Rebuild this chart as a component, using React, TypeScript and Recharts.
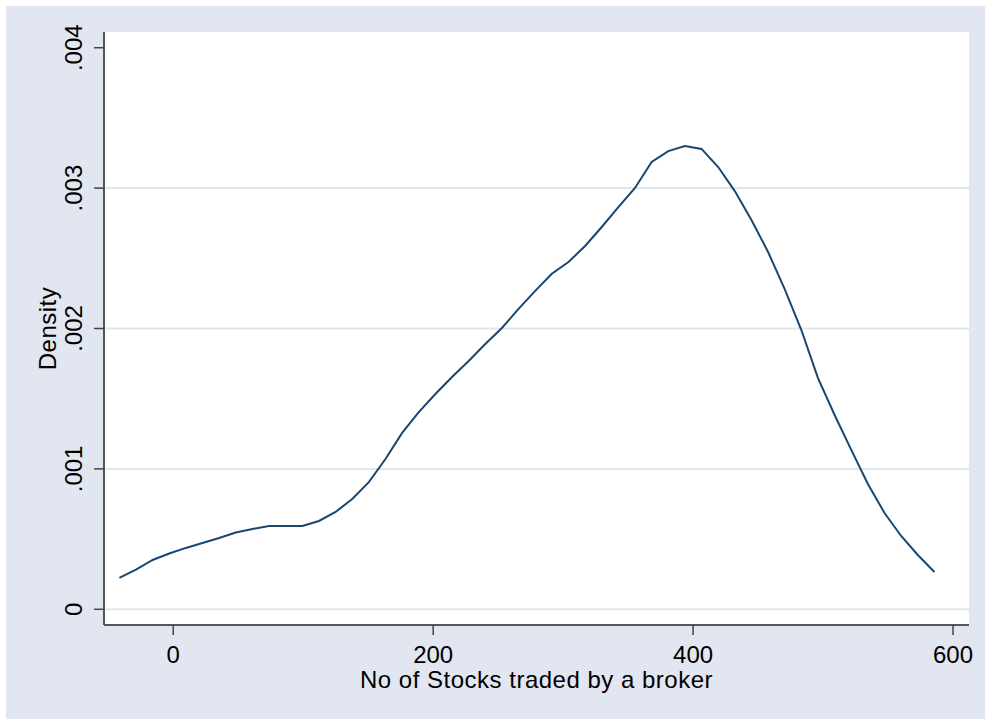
import React from 'react';
import { LineChart, Line, XAxis, YAxis, CartesianGrid, ReferenceLine } from 'recharts';

const stocksTraded = [
  -41.5, -28.7, -15.9, -3.1, 9.7, 22.5, 35.3, 48.1, 60.9, 73.7,
  86.5, 99.3, 112.1, 124.9, 137.7, 150.5, 163.3, 176.1, 188.9, 201.7,
  214.5, 227.3, 240.1, 252.9, 265.7, 278.5, 291.3, 304.1, 316.9, 329.7,
  342.5, 355.3, 368.1, 380.9, 393.7, 406.5, 419.3, 432.1, 444.9, 457.7,
  470.5, 483.3, 496.1, 508.9, 521.7, 534.5, 547.3, 560.1, 572.9, 585.7,
];

const density = [
  0.000223, 0.000283, 0.000351, 0.000397, 0.000437, 0.000472, 0.000508, 0.000547, 0.000572, 0.000593,
  0.000593, 0.000593, 0.000629, 0.000693, 0.000786, 0.000906, 0.00107, 0.001256, 0.001405, 0.001533,
  0.001655, 0.001768, 0.00189, 0.002004, 0.00214, 0.002268, 0.00239, 0.002474, 0.002588, 0.002723,
  0.002865, 0.003001, 0.003187, 0.003264, 0.0033, 0.003279, 0.00315, 0.002979, 0.002773, 0.002545,
  0.002281, 0.001989, 0.001647, 0.001384, 0.001135, 0.000893, 0.000686, 0.000522, 0.000387, 0.000266,
];

const xTicks = [0, 200, 400, 600];
const yTicks = [0, 0.001, 0.002, 0.003, 0.004];
const yTickLabels = ['0', '.001', '.002', '.003', '.004'];
const gridValues = [0, 0.001, 0.002, 0.003];

const data = stocksTraded.map((x, i) => ({ x, d: density[i] }));

const FONT = '"Liberation Sans", Arial, Helvetica, sans-serif';

const XTick = (props: any) => {
  const { x, payload } = props;
  return (
    <text x={x} y={657} textAnchor="middle" fontFamily={FONT} fontSize={24} fill="#000">
      {payload.value}
    </text>
  );
};

const YTick = (props: any) => {
  const { y, payload } = props;
  const idx = yTicks.indexOf(payload.value);
  const label = idx >= 0 ? yTickLabels[idx] : String(payload.value);
  return (
    <text
      transform={`translate(76, ${y}) rotate(-90)`}
      textAnchor="middle"
      fontFamily={FONT}
      fontSize={24}
      fill="#000"
    >
      {label}
    </text>
  );
};

export default function App() {
  return (
    <div style={{ position: 'absolute', left: 0, top: 0, width: 985, height: 719, background: '#fff' }}>
      <div style={{ position: 'absolute', left: 6, top: 6, width: 979, height: 713, background: '#E2E6F0' }}>
        <LineChart width={979} height={713} data={data} margin={{ top: 26, right: 16, bottom: 0, left: 0 }}>
          <CartesianGrid horizontal={false} vertical={false} fill="#ffffff" />
          {gridValues.map((v) => (
            <ReferenceLine key={v} y={v} stroke="#E1E5EF" strokeWidth={2} ifOverflow="visible" />
          ))}
          <XAxis
            dataKey="x"
            type="number"
            domain={[-53.3, 612.3]}
            ticks={xTicks}
            allowDataOverflow
            height={94}
            tickSize={10}
            axisLine={{ stroke: '#222', strokeWidth: 1.5 }}
            tickLine={{ stroke: '#444', strokeWidth: 1.5 }}
            tick={<XTick />}
            label={{
              content: () => (
                <text
                  x={530.5}
                  y={682}
                  textAnchor="middle"
                  fontFamily={FONT}
                  fontSize={24}
                  letterSpacing={0.5}
                  fill="#000"
                >
                  No of Stocks traded by a broker
                </text>
              ),
            }}
          />
          <YAxis
            type="number"
            domain={[-0.000112, 0.004112]}
            ticks={yTicks}
            allowDataOverflow
            width={98}
            tickSize={10}
            axisLine={{ stroke: '#555', strokeWidth: 2 }}
            tickLine={{ stroke: '#444', strokeWidth: 1.5 }}
            tick={<YTick />}
            label={{
              content: () => (
                <text
                  transform="translate(50, 322.5) rotate(-90)"
                  textAnchor="middle"
                  fontFamily={FONT}
                  fontSize={24}
                  letterSpacing={0.5}
                  fill="#000"
                >
                  Density
                </text>
              ),
            }}
          />
          <Line
            type="linear"
            dataKey="d"
            stroke="#1A476F"
            strokeWidth={2}
            dot={false}
            activeDot={false}
            isAnimationActive={false}
          />
        </LineChart>
      </div>
    </div>
  );
}
